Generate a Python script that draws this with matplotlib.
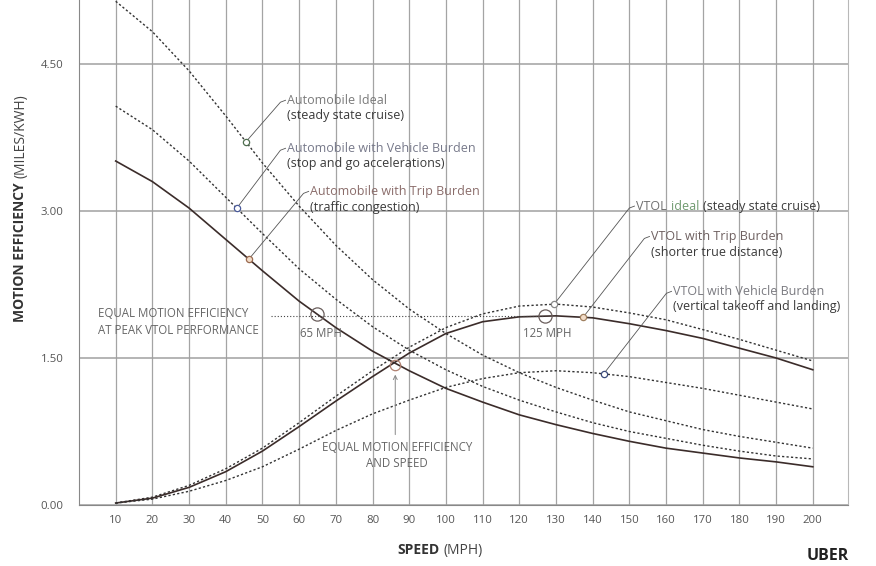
import numpy as np
from matplotlib import pyplot as plt

# speeds (mph) and motion efficiency (miles/kWh)
speed = [10, 20, 30, 40, 50, 60, 70, 80, 90, 100,
         110, 120, 130, 140, 150, 160, 170, 180, 190, 200]

auto_ideal = [5.14, 4.83, 4.43, 3.97, 3.49, 3.05, 2.65, 2.30, 2.00, 1.75,
              1.53, 1.35, 1.20, 1.07, 0.95, 0.86, 0.77, 0.70, 0.64, 0.58]
auto_vehicle = [4.07, 3.83, 3.51, 3.14, 2.77, 2.41, 2.10, 1.82, 1.58, 1.38,
                1.21, 1.07, 0.95, 0.84, 0.75, 0.68, 0.61, 0.55, 0.50, 0.47]
auto_trip = [3.51, 3.30, 3.03, 2.71, 2.39, 2.08, 1.81, 1.57, 1.37, 1.19,
             1.05, 0.92, 0.82, 0.73, 0.65, 0.58, 0.53, 0.48, 0.44, 0.39]

vtol_ideal = [0.02, 0.08, 0.20, 0.37, 0.58, 0.84, 1.11, 1.37, 1.61, 1.81,
              1.95, 2.03, 2.05, 2.02, 1.96, 1.89, 1.79, 1.69, 1.58, 1.47]
vtol_trip = [0.02, 0.07, 0.18, 0.34, 0.55, 0.80, 1.06, 1.31, 1.55, 1.75,
             1.87, 1.92, 1.93, 1.91, 1.85, 1.78, 1.70, 1.60, 1.50, 1.38]
vtol_vehicle = [0.02, 0.06, 0.14, 0.25, 0.39, 0.57, 0.76, 0.93, 1.07, 1.20,
                1.29, 1.35, 1.37, 1.35, 1.31, 1.25, 1.19, 1.12, 1.05, 0.98]

y_ticks = [0, 1.5, 3.0, 4.5]

plt.rcParams['font.family'] = ['Open Sans', 'DejaVu Sans']

fig = plt.figure(figsize=(8.76, 5.66), dpi=100)
ax = fig.add_axes([79 / 876, 1 - 505 / 566, (848 - 79) / 876, 505 / 566])
ax.set_xlim(0, 209.6)
ax.set_ylim(0, 5.153)

ax.set_xticks(speed)
ax.set_yticks(y_ticks)
ax.set_yticklabels(["{:.2f}".format(v) for v in y_ticks])
ax.tick_params(length=0, labelsize=8.2, labelcolor='#555555')
ax.tick_params(axis='y', pad=11)
ax.tick_params(axis='x', pad=7)
ax.xaxis.grid(True, color='#a4a4a4', lw=0.9)
ax.yaxis.grid(True, color='#a0a0a0', lw=1.1)
ax.set_axisbelow(True)
ax.spines['top'].set_visible(False)
for side in ['left', 'bottom']:
    ax.spines[side].set_color('#888888')
ax.spines['right'].set_color('#b8b8b8')

dots = (0, (1.6, 1.6))
solid_c = '#3b2c2a'
ax.plot(speed, auto_ideal, color='#333333', lw=1.0, ls=dots)
ax.plot(speed, auto_vehicle, color='#333333', lw=1.0, ls=dots)
ax.plot(speed, auto_trip, color=solid_c, lw=1.2)
ax.plot(speed, vtol_ideal, color='#333333', lw=1.0, ls=dots)
ax.plot(speed, vtol_trip, color=solid_c, lw=1.2)
ax.plot(speed, vtol_vehicle, color='#333333', lw=1.0, ls=dots)

# labels with leader lines: curve, speed of marker, label position, colours
labels = [
    (auto_ideal, 45.5, 56.7, 4.09, "Automobile Ideal", "(steady state cruise)", '#7a7a7a', 'white', '#4f6e4f'),
    (auto_vehicle, 43.0, 56.7, 3.60, "Automobile with Vehicle Burden", "(stop and go accelerations)", '#77798a', 'white', '#4a5a9a'),
    (auto_trip, 46.3, 63.0, 3.16, "Automobile with Trip Burden", "(traffic congestion)", '#8a6c6a', '#f2dcc8', '#9a6a50'),
    (vtol_trip, 137.4, 155.9, 2.70, "VTOL with Trip Burden", "(shorter true distance)", '#6e6060', '#f2dcc8', '#a08060'),
    (vtol_vehicle, 143.0, 161.9, 2.14, "VTOL with Vehicle Burden", "(vertical takeoff and landing)", '#7a7a80', 'white', '#3a4a7a'),
]
for curve, ms, tx, ty, line1, line2, c1, fc, ec in labels:
    my = np.interp(ms, speed, curve)
    ax.plot([ms, tx - 1.8, tx - 0.4], [my, ty + 0.02, ty + 0.04], color='#555555', lw=0.6)
    ax.plot(ms, my, 'o', ms=4.5, mfc=fc, mec=ec, mew=0.9, zorder=5)
    ax.text(tx, ty, line1, fontsize=9, color=c1, va='baseline')
    ax.text(tx, ty - 0.155, line2, fontsize=9, color='#3a3a3a', va='baseline')

# VTOL ideal label has its own colouring on one line
my = np.interp(129.5, speed, vtol_ideal)
ax.plot([129.5, 151.8 - 1.8, 151.8 - 0.4], [my, 3.03, 3.05], color='#555555', lw=0.6)
ax.plot(129.5, my, 'o', ms=4.5, mfc='white', mec='#888888', mew=0.9, zorder=5)
t1 = ax.text(151.8, 3.01, "VTOL", fontsize=9, color='#707070', va='baseline')
t2 = ax.annotate("ideal", xy=(1, 3.01), xycoords=(t1, 'data'), xytext=(2.8, 0),
                 textcoords='offset points', fontsize=9, color='#6f9a6f', va='baseline')
ax.annotate("(steady state cruise)", xy=(1, 3.01), xycoords=(t2, 'data'), xytext=(2.8, 0),
            textcoords='offset points', fontsize=9, color='#3a3a3a', va='baseline')

# equal efficiency at peak VTOL performance
small = 8.3
peak = max(vtol_trip)
ax.plot([52.2, 127], [peak, peak], color='#444444', lw=0.8, ls=(0, (1, 1.8)))
ax.plot(65, np.interp(65, speed, auto_trip), 'o', ms=9.5, mfc='none', mec='#6a5e5c', mew=0.9, zorder=5)
ax.plot(127, np.interp(127, speed, vtol_trip), 'o', ms=9.5, mfc='none', mec='#6a5e5c', mew=0.9, zorder=5)
ax.text(5.2, 1.865, "EQUAL MOTION EFFICIENCY\nAT PEAK VTOL PERFORMANCE", fontsize=small,
        color='#666666', va='center', linespacing=1.35)
ax.text(60.3, 1.75, "65 MPH", fontsize=small, color='#666666', va='center')
ax.text(121, 1.75, "125 MPH", fontsize=small, color='#666666', va='center')

# crossing point
cross_s = 86.2
cross_v = np.interp(cross_s, speed, vtol_trip)
ax.plot(cross_s, cross_v - 0.03, 'o', ms=7.5, mfc='none', mec='#b08070', mew=0.9, zorder=5)
ax.annotate("", xy=(cross_s, cross_v - 0.1), xytext=(cross_s, 0.69),
            arrowprops=dict(arrowstyle='->', color='#888888', lw=0.7, mutation_scale=7))
ax.text(86.7, 0.505, "EQUAL MOTION EFFICIENCY\nAND SPEED", fontsize=small, color='#666666',
        ha='center', va='center', multialignment='center', linespacing=1.35)

# axis titles: bold word + light unit
sx = fig.text(397 / 876, 1 - 554 / 566, "SPEED", fontsize=10, weight='bold', color='#333333', va='baseline')
ax.annotate("(MPH)", xy=(1, 1 - 554 / 566), xycoords=(sx, 'figure fraction'), xytext=(3, 0),
            textcoords='offset points', fontsize=10, color='#444444', va='baseline', annotation_clip=False)
sy = fig.text(24 / 876, 1 - 322 / 566, "MOTION EFFICIENCY", fontsize=10, weight='bold', color='#333333',
              rotation=90, rotation_mode='anchor', ha='left', va='baseline')
ax.annotate("(MILES/KWH)", xy=(24 / 876, 1), xycoords=('figure fraction', sy), xytext=(0, 3),
            textcoords='offset points', fontsize=10, color='#444444', rotation=90,
            rotation_mode='anchor', ha='left', va='baseline', annotation_clip=False)

fig.text(828 / 876, 1 - 556 / 566, "UBER", fontsize=11.5, weight='bold', color='#222222',
         ha='center', va='center')

fig.savefig('out.png', dpi=100)
